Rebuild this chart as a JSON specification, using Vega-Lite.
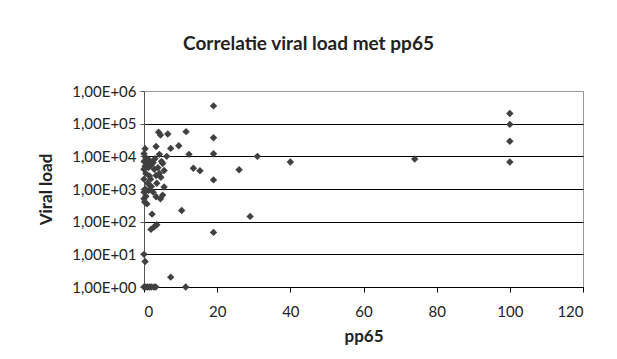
{
  "$schema": "https://vega.github.io/schema/vega-lite/v6.json",
  "autosize": "none",
  "width": 439,
  "height": 196,
  "padding": {"left": 144, "top": 91, "right": 34, "bottom": 72},
  "background": "white",
  "title": {
    "text": "Correlatie viral load met pp65",
    "font": "Lato",
    "fontSize": 19,
    "fontWeight": "bold",
    "color": "#222222",
    "anchor": "middle",
    "dx": -55,
    "offset": 30
  },
  "data": {
    "values": [
      {"pp65": 19, "vl": 350000},
      {"pp65": 4, "vl": 55000},
      {"pp65": 4.5, "vl": 45000},
      {"pp65": 6.5, "vl": 48000},
      {"pp65": 11.5, "vl": 57000},
      {"pp65": 19, "vl": 37000},
      {"pp65": 0.3, "vl": 17000},
      {"pp65": 3.3, "vl": 20000},
      {"pp65": 7.3, "vl": 17500},
      {"pp65": 9.5, "vl": 21000},
      {"pp65": 4.2, "vl": 11500},
      {"pp65": 6.2, "vl": 10000},
      {"pp65": 12.3, "vl": 11500},
      {"pp65": 19, "vl": 12000},
      {"pp65": 13.5, "vl": 4300},
      {"pp65": 15.3, "vl": 3600},
      {"pp65": 26, "vl": 3900},
      {"pp65": 19, "vl": 1900},
      {"pp65": 31, "vl": 10000},
      {"pp65": 40, "vl": 6700},
      {"pp65": 74, "vl": 8300},
      {"pp65": 100, "vl": 205000},
      {"pp65": 100, "vl": 95000},
      {"pp65": 100, "vl": 29000},
      {"pp65": 100, "vl": 6700},
      {"pp65": 29, "vl": 145},
      {"pp65": 19, "vl": 47},
      {"pp65": 10.3, "vl": 220},
      {"pp65": 7.3, "vl": 2},
      {"pp65": 11.4, "vl": 1},
      {"pp65": 0, "vl": 10},
      {"pp65": 0.3, "vl": 6},
      {"pp65": 0, "vl": 1},
      {"pp65": 0.5, "vl": 1},
      {"pp65": 1, "vl": 1},
      {"pp65": 1.5, "vl": 1},
      {"pp65": 2, "vl": 1},
      {"pp65": 2.7, "vl": 1},
      {"pp65": 3.2, "vl": 1},
      {"pp65": 2.2, "vl": 170},
      {"pp65": 1.9, "vl": 58},
      {"pp65": 2.8, "vl": 70},
      {"pp65": 3.5, "vl": 80},
      {"pp65": 5.1, "vl": 6000},
      {"pp65": 5.5, "vl": 3700},
      {"pp65": 4.2, "vl": 3000},
      {"pp65": 3.3, "vl": 2600},
      {"pp65": 4.6, "vl": 2300},
      {"pp65": 5.5, "vl": 1150},
      {"pp65": 3.3, "vl": 580},
      {"pp65": 5.1, "vl": 650},
      {"pp65": 4.5, "vl": 500},
      {"pp65": 0, "vl": 12000},
      {"pp65": 0.5, "vl": 9000},
      {"pp65": 1, "vl": 8000},
      {"pp65": 0, "vl": 7000},
      {"pp65": 0.8, "vl": 6000},
      {"pp65": 1.5, "vl": 7500},
      {"pp65": 0.3, "vl": 5000},
      {"pp65": 1.2, "vl": 4500},
      {"pp65": 2, "vl": 5500},
      {"pp65": 0, "vl": 4000},
      {"pp65": 2.5, "vl": 6500},
      {"pp65": 3, "vl": 8500},
      {"pp65": 2.8, "vl": 4000},
      {"pp65": 0.5, "vl": 3000},
      {"pp65": 1.5, "vl": 2500},
      {"pp65": 0, "vl": 2000},
      {"pp65": 1, "vl": 1500},
      {"pp65": 0.3, "vl": 1000},
      {"pp65": 0, "vl": 800},
      {"pp65": 1.2, "vl": 900},
      {"pp65": 0.5, "vl": 600},
      {"pp65": 0, "vl": 500},
      {"pp65": 0.2, "vl": 400},
      {"pp65": 0.8, "vl": 350},
      {"pp65": 2, "vl": 1200},
      {"pp65": 2.5, "vl": 800},
      {"pp65": 3.5, "vl": 1500},
      {"pp65": 1.8, "vl": 2000},
      {"pp65": 3.8, "vl": 4500},
      {"pp65": 4.8, "vl": 7000}
    ]
  },
  "mark": {"type": "point", "shape": "diamond", "filled": true, "size": 55, "color": "#404040", "opacity": 1},
  "encoding": {
    "x": {
      "field": "pp65",
      "type": "quantitative",
      "scale": {"domain": [0, 120], "nice": false, "zero": false},
      "axis": {
        "title": "pp65",
        "values": [0, 20, 40, 60, 80, 100, 120],
        "grid": false,
        "domainColor": "#000000",
        "tickColor": "#000000",
        "tickSize": 5,
        "labelPadding": 12,
        "titlePadding": 9
      }
    },
    "y": {
      "field": "vl",
      "type": "quantitative",
      "scale": {"type": "log", "domain": [1, 1000000], "nice": false},
      "axis": {
        "title": "Viral load",
        "values": [1, 10, 100, 1000, 10000, 100000, 1000000],
        "labelExpr": "'1,00E+0' + round(log(datum.value) / LN10)",
        "grid": true,
        "gridColor": {"condition": {"test": "datum.value >= 1000000", "value": "#999999"}, "value": "#000000"},
        "gridOpacity": 1,
        "domainColor": "#555555",
        "tickColor": "#555555",
        "tickSize": 4,
        "labelPadding": 4,
        "titlePadding": 16
      }
    }
  },
  "config": {
    "view": {"stroke": "#999999", "strokeWidth": 1},
    "axis": {
      "labelFont": "Lato",
      "labelFontSize": 15,
      "labelColor": "#222222",
      "titleFont": "Lato",
      "titleFontSize": 17,
      "titleFontWeight": "bold",
      "titleColor": "#222222",
      "domainWidth": 1,
      "gridWidth": 1
    }
  }
}
